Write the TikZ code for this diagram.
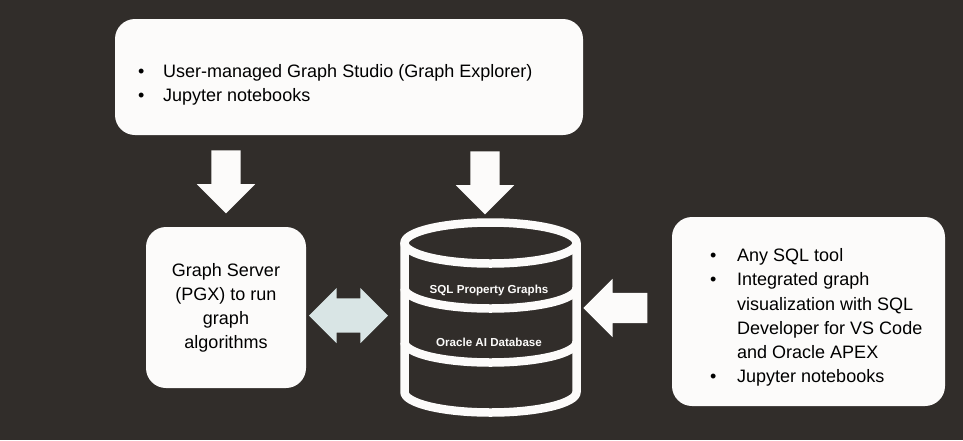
\documentclass[tikz,border=0pt]{standalone}
\usepackage{fontspec}
\setmainfont{Liberation Sans}
\usetikzlibrary{shapes.arrows, positioning}
\definecolor{bgdark}{HTML}{312D2A}
\definecolor{boxwhite}{HTML}{FCFBFA}
\definecolor{paleblue}{HTML}{D9E5E5}
\newcommand{\blt}[2][27pt]{\makebox[#1][l]{\textbullet}#2}
\newcommand{\cnt}[2][27pt]{\hspace*{#1}#2}

\begin{document}
\begin{tikzpicture}[x=1pt, y=-1pt,
  panel/.style={fill=boxwhite, rounded corners=20pt, inner sep=0pt},
  txt/.style={font=\fontsize{18}{24.2}\selectfont, text=black, align=left, inner sep=0pt},
  dblabel/.style={font=\bfseries\fontsize{11.6}{13}\selectfont, text=boxwhite},
  downarrow/.style={single arrow, fill=boxwhite, minimum width=58pt, minimum height=63pt,
    single arrow head extend=14.5pt, inner xsep=14.5pt, inner ysep=0pt, shape border rotate=270},
  dbline/.style={draw=boxwhite, line width=8.5pt}]

  \fill[bgdark] (0,0) rectangle (963,440);
  \useasboundingbox (0,0) rectangle (963,440);

  % boxes
  \node[panel, minimum width=468pt, minimum height=116pt] (tools) at (349,77) {};
  \node[panel, minimum width=160pt, minimum height=161pt] (pgx) at (226,307.5) {};
  \node[panel, minimum width=273pt, minimum height=189pt] (sql) at (808.5,311.5) {};

  \node[txt, anchor=west] (toolstext) at (138,84.5)
    {\blt[25pt]{User-managed Graph Studio (Graph Explorer)}\\ \blt[25pt]{Jupyter notebooks}};
  \node[txt, align=center] (pgxtext) at (226,308)
    {Graph Server\\(PGX) to run\\graph\\algorithms};
  \node[txt, anchor=west] (sqltext) at (710,317.5)
    {\blt{Any SQL tool}\\ \blt{Integrated graph}\\ \cnt{visualization with SQL}\\
     \cnt{Developer for VS Code}\\ \cnt{and Oracle APEX}\\ \blt{Jupyter notebooks}};

  % database
  \draw[dbline] (404.5,243) -- (404.5,392) arc[start angle=180, end angle=0, x radius=86, y radius=20.5]
    -- (576.5,243);
  \draw[dbline] (490.5,243) ellipse[x radius=86, y radius=20.5];
  \draw[dbline] (404.5,288) arc[start angle=180, end angle=0, x radius=86, y radius=20.5];
  \draw[dbline] (404.5,342) arc[start angle=180, end angle=0, x radius=86, y radius=20.5];
  \node[dblabel] (graphs) at (489,290) {SQL Property Graphs};
  \node[dblabel] (oracledb) at (489,342) {Oracle AI Database};

  % arrows
  \node[downarrow] (toPgx) at (226,174.5) {};
  \node[downarrow] (toDb) at (485,175.5) {};
  \node[double arrow, fill=paleblue, minimum width=55pt, minimum height=79pt,
    double arrow head extend=10.5pt, inner xsep=0pt, inner ysep=17pt] (link) at (348.5,315.5) {};
  \node[single arrow, fill=boxwhite, minimum width=58pt, minimum height=64pt,
    single arrow head extend=14pt, inner xsep=0pt, inner ysep=15pt, shape border rotate=180] (fromSql) at (623,308) {};
\end{tikzpicture}
\end{document}
